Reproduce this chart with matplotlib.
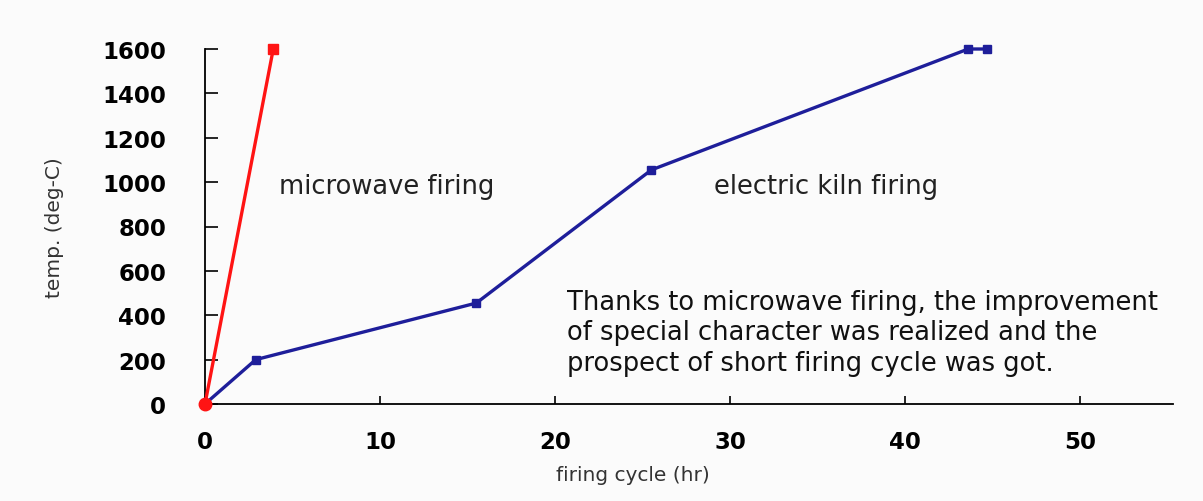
import matplotlib
matplotlib.use('Agg')
from matplotlib import pyplot as plt

# firing curves
microwave_hours = [0, 3.9]
microwave_temp = [0, 1600]

kiln_hours = [0, 2.9, 15.5, 25.5, 43.6, 44.7]
kiln_temp = [0, 200, 455, 1055, 1600, 1600]

x_ticks = [0, 10, 20, 30, 40, 50]
y_ticks = [0, 200, 400, 600, 800, 1000, 1200, 1400, 1600]

note = ('Thanks to microwave firing, the improvement\n'
        'of special character was realized and the\n'
        'prospect of short firing cycle was got.')


def main():
    plt.rcParams['font.family'] = ['DejaVu Sans']
    fig = plt.figure(figsize=(12.03, 5.02), dpi=100, facecolor='#fbfbfb')
    ax = fig.add_axes([205 / 1203, 1 - 405 / 502, 968 / 1203, 355 / 502])
    ax.set_facecolor('none')

    ax.plot(kiln_hours, kiln_temp, color='#1e1e9a', linewidth=2.4,
            marker='s', markersize=6, clip_on=False, zorder=3)
    ax.plot(microwave_hours, microwave_temp, color='#ff1414', linewidth=2.4,
            clip_on=False, zorder=4)
    ax.plot(microwave_hours[:1], microwave_temp[:1], 'o', color='#ff1414',
            markersize=9, clip_on=False, zorder=5)
    ax.plot(microwave_hours[1:], microwave_temp[1:], 's', color='#ff1414',
            markersize=7, clip_on=False, zorder=5)

    ax.set_xlim(0, 55.3)
    ax.set_ylim(0, 1600)
    ax.set_xticks(x_ticks)
    ax.set_yticks(y_ticks)
    ax.tick_params(axis='y', direction='in', length=9.5, width=1.2, pad=28,
                   labelsize=16.5)
    ax.tick_params(axis='x', direction='in', length=6, width=1.2, pad=19,
                   labelsize=16.5)
    for label in ax.get_xticklabels() + ax.get_yticklabels():
        label.set_fontweight('bold')

    for side in ['top', 'right']:
        ax.spines[side].set_visible(False)
    ax.spines['left'].set_linewidth(1.3)
    ax.spines['bottom'].set_linewidth(1.3)

    ax.set_ylabel('temp. (deg-C)', fontsize=14.5, color='#333333')
    ax.yaxis.set_label_coords(-0.146, 0.5)
    ax.set_xlabel('firing cycle (hr)', fontsize=14.5, color='#333333')
    ax.xaxis.set_label_coords(0.442, -0.172)

    ax.text(4.2, 982, 'microwave firing', fontsize=18.5, va='center',
            color='#222222')
    ax.text(29.1, 982, 'electric kiln firing', fontsize=18.5, va='center',
            color='#222222')
    ax.text(20.7, 518, note, fontsize=18.5, va='top', linespacing=1.22,
            color='#111111')

    plt.savefig('out.png', dpi=100, facecolor=fig.get_facecolor())


if __name__ == '__main__':
    main()
